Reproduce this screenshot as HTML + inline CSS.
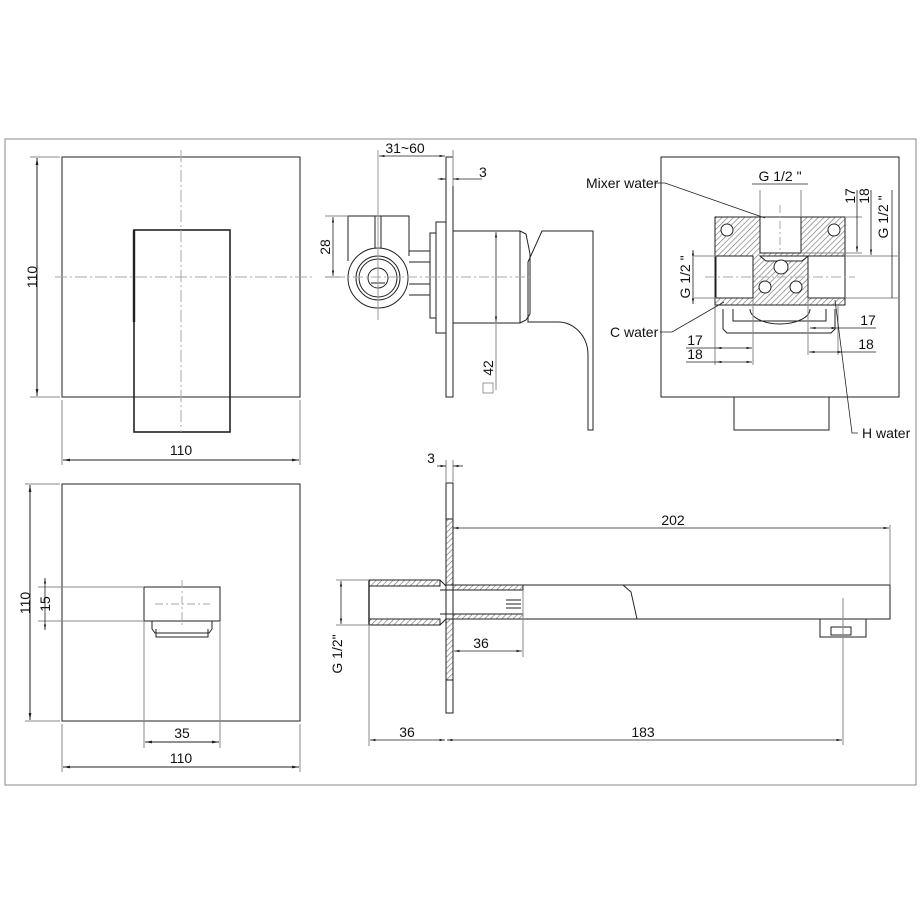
<!DOCTYPE html>
<html><head><meta charset="utf-8"><style>
html,body{margin:0;padding:0;background:#fff}
svg{display:block}
text{font-family:"Liberation Sans",sans-serif;font-size:14px;fill:#111}
</style></head><body>
<svg width="920" height="920" viewBox="0 0 920 920" xmlns="http://www.w3.org/2000/svg">
<defs>
<pattern id="h" width="4" height="4" patternUnits="userSpaceOnUse" patternTransform="rotate(45)">
<rect width="4" height="4" fill="#fff"/><line x1="0" y1="0" x2="0" y2="4" stroke="#777" stroke-width="1.3"/>
</pattern>
<marker id="a" viewBox="0 0 10 10" refX="10" refY="5" markerWidth="7" markerHeight="7" orient="auto-start-reverse"><path d="M0,3L10,5L0,7z" fill="#222"/></marker>
</defs>
<g fill="none" stroke="#222" stroke-width="1">
<!-- frame -->
<rect x="5" y="139" width="911" height="646" stroke="#888"/>

<!-- top-left view -->
<rect x="62" y="157" width="238" height="240"/>
<rect x="134" y="230" width="96" height="202" stroke-width="1.6"/>
<line x1="134" y1="230" x2="134" y2="322" stroke-width="2.4"/>
<line x1="181" y1="150" x2="181" y2="432" stroke="#aaa" stroke-dasharray="12,3,2,3"/>
<line x1="55" y1="277" x2="312" y2="277" stroke="#aaa" stroke-dasharray="12,3,2,3"/>
<line x1="30" y1="157" x2="60" y2="157" stroke="#888"/><line x1="30" y1="397" x2="60" y2="397" stroke="#888"/>
<line x1="37" y1="158" x2="37" y2="396" marker-start="url(#a)" marker-end="url(#a)"/>
<line x1="62" y1="400" x2="62" y2="465" stroke="#888"/><line x1="300" y1="400" x2="300" y2="465" stroke="#888"/>
<line x1="63" y1="460" x2="299" y2="460" marker-start="url(#a)" marker-end="url(#a)"/>

<!-- bottom-left view -->
<rect x="62" y="484" width="238" height="237"/>
<rect x="144" y="587" width="76" height="34"/>
<path d="M152,621v8l3,4h54l3,-4v-8"/>
<path d="M156,629v8h52v-8"/>
<line x1="182" y1="580" x2="182" y2="628" stroke="#aaa" stroke-dasharray="8,3,2,3"/>
<line x1="155" y1="604" x2="210" y2="604" stroke="#aaa" stroke-dasharray="8,3,2,3"/>
<line x1="38" y1="587" x2="144" y2="587" stroke="#888"/><line x1="38" y1="621" x2="144" y2="621" stroke="#888"/>
<line x1="45" y1="578" x2="45" y2="630" marker-start="url(#a)" marker-end="url(#a)" stroke-width=".8"/>
<line x1="25" y1="484" x2="60" y2="484" stroke="#888"/><line x1="25" y1="721" x2="60" y2="721" stroke="#888"/>
<line x1="30" y1="485" x2="30" y2="720" marker-start="url(#a)" marker-end="url(#a)"/>
<line x1="144" y1="621" x2="144" y2="748" stroke="#888"/><line x1="220" y1="621" x2="220" y2="748" stroke="#888"/>
<line x1="145" y1="742" x2="219" y2="742" marker-start="url(#a)" marker-end="url(#a)"/>
<line x1="62" y1="724" x2="62" y2="772" stroke="#888"/><line x1="300" y1="724" x2="300" y2="772" stroke="#888"/>
<line x1="63" y1="767" x2="299" y2="767" marker-start="url(#a)" marker-end="url(#a)"/>

<!-- top-middle side view -->
<rect x="446" y="157" width="7" height="240"/>
<rect x="436" y="222" width="10" height="111"/>
<rect x="430" y="233" width="6" height="85"/>
<rect x="453" y="231" width="67" height="92"/>
<path d="M520,231l6,3l4,20v60l-4,6l-6,3"/>
<path d="M542,231h51v199h-5v-75c0,-20 -15,-33 -30,-33h-30v-60z"/>
<path d="M409,251h21M409,262h21M409,284h21M409,295h21"/>
<path d="M348,216h61v40"/>
<path d="M348,216v45"/>
<circle cx="378" cy="278" r="30"/>
<circle cx="378" cy="278" r="22"/>
<circle cx="378" cy="278" r="19"/>
<circle cx="378" cy="278" r="10"/>
<path d="M371,283h14"/>
<path d="M375,216v32M381,216v32"/>
<line x1="378" y1="150" x2="378" y2="320" stroke="#999"/>
<line x1="335" y1="277" x2="530" y2="277" stroke="#aaa" stroke-dasharray="10,3,2,3"/>
<line x1="379" y1="156" x2="445" y2="156" marker-start="url(#a)" marker-end="url(#a)" stroke-width=".8"/>
<line x1="453" y1="150" x2="453" y2="186" stroke="#888"/>
<line x1="438" y1="179" x2="446" y2="179" marker-end="url(#a)" stroke-width=".8"/>
<line x1="453" y1="179" x2="482" y2="179" marker-start="url(#a)" stroke-width=".8"/>
<line x1="325" y1="216" x2="348" y2="216" stroke="#888"/><line x1="325" y1="277" x2="340" y2="277" stroke="#888"/>
<line x1="333" y1="217" x2="333" y2="276" marker-start="url(#a)" marker-end="url(#a)" stroke-width=".8"/>
<line x1="496" y1="232" x2="496" y2="322" marker-start="url(#a)" marker-end="url(#a)" stroke-width=".8"/>
<line x1="496" y1="322" x2="496" y2="390" stroke="#888"/>
<rect x="483" y="383" width="10" height="10" stroke="#999"/>

<!-- top-right view -->
<rect x="661" y="157" width="238" height="240"/>
<rect x="734" y="397" width="95" height="33"/>
<path d="M723,309v20l4,4h104l4,-4v-20"/>
<path d="M733,309v12h93v-12"/>
<path d="M750,309a30,15 0 0 0 60,0"/>
<rect x="715" y="217" width="130" height="88" fill="url(#h)"/>
<rect x="760" y="217" width="41" height="36" fill="#fff"/>
<rect x="716" y="256" width="37" height="42" fill="#fff"/>
<rect x="808" y="256" width="37" height="42" fill="#fff"/>
<path d="M760,256h48l-6,5h-36z" fill="#fff"/>
<circle cx="781" cy="267" r="7" fill="#fff"/>
<circle cx="765" cy="287" r="6" fill="#fff"/>
<circle cx="796" cy="287" r="6" fill="#fff"/>
<circle cx="727" cy="230" r="6" fill="#fff"/>
<circle cx="834" cy="230" r="6" fill="#fff"/>
<line x1="705" y1="277" x2="855" y2="277" stroke="#aaa" stroke-dasharray="10,3,2,3"/>
<line x1="780" y1="205" x2="780" y2="250" stroke="#aaa" stroke-dasharray="8,3,2,3"/>
<line x1="760" y1="190" x2="760" y2="217" stroke="#888"/><line x1="801" y1="190" x2="801" y2="217" stroke="#888"/>
<line x1="752" y1="184" x2="808" y2="184" stroke-width=".8"/>
<line x1="845" y1="217" x2="862" y2="217" stroke="#888"/><line x1="845" y1="256" x2="898" y2="256" stroke="#888"/>
<line x1="801" y1="253" x2="862" y2="253" stroke="#888"/><line x1="845" y1="298" x2="898" y2="298" stroke="#888"/>
<line x1="857" y1="190" x2="857" y2="252" marker-end="url(#a)" stroke-width=".8"/>
<line x1="871" y1="190" x2="871" y2="255" marker-end="url(#a)" stroke-width=".8"/>
<line x1="892" y1="190" x2="892" y2="298" stroke-width=".8"/>
<line x1="694" y1="256" x2="716" y2="256" stroke="#888"/><line x1="694" y1="298" x2="716" y2="298" stroke="#888"/>
<line x1="693" y1="250" x2="693" y2="304" marker-start="url(#a)" marker-end="url(#a)" stroke-width=".8"/>
<line x1="715" y1="305" x2="715" y2="365" stroke="#888"/><line x1="753" y1="298" x2="753" y2="365" stroke="#888"/>
<line x1="716" y1="348" x2="752" y2="348" marker-start="url(#a)" marker-end="url(#a)" stroke-width=".8"/>
<line x1="716" y1="362" x2="752" y2="362" marker-start="url(#a)" marker-end="url(#a)" stroke-width=".8"/>
<line x1="686" y1="348" x2="716" y2="348" stroke-width=".8"/>
<line x1="686" y1="362" x2="716" y2="362" stroke-width=".8"/>
<line x1="808" y1="298" x2="808" y2="355" stroke="#888"/><line x1="838" y1="305" x2="838" y2="355" stroke="#888"/>
<line x1="810" y1="328" x2="837" y2="328" marker-start="url(#a)" marker-end="url(#a)" stroke-width=".8"/>
<line x1="837" y1="328" x2="876" y2="328" stroke-width=".8"/>
<line x1="809" y1="352" x2="843" y2="352" marker-start="url(#a)" marker-end="url(#a)" stroke-width=".8"/>
<line x1="843" y1="352" x2="876" y2="352" stroke-width=".8"/>
<path d="M655,183l10,0l100,35" stroke-width=".8"/>
<path d="M660,332l12,0l52,-30" stroke-width=".8"/>
<path d="M858,433l-6,0l-17,-133" stroke-width=".8"/>

<!-- bottom-middle view -->
<rect x="446" y="483" width="7" height="230"/>
<rect x="446" y="519" width="7" height="66" fill="url(#h)"/>
<rect x="446" y="619" width="7" height="61" fill="url(#h)"/>
<path d="M453,585h170l8,7l6,27h-184" />
<path d="M623,585h267v34h-253"/>
<rect x="369" y="580" width="71" height="6" fill="url(#h)"/>
<rect x="369" y="619" width="71" height="6" fill="url(#h)"/>
<line x1="369" y1="580" x2="369" y2="625" stroke-width="1.4"/>
<path d="M440,580l6,6v33l-6,6"/>
<rect x="453" y="585" width="70" height="5" fill="url(#h)"/>
<rect x="453" y="614" width="70" height="5" fill="url(#h)"/>
<path d="M440,590h13M440,614h13"/>
<path d="M506,600h15M506,604h15M506,608h15"/>
<rect x="820" y="619" width="46" height="18"/>
<rect x="831" y="627" width="20" height="8"/>
<line x1="843" y1="598" x2="843" y2="745" stroke="#888"/>
<line x1="453" y1="528" x2="889" y2="528" marker-start="url(#a)" marker-end="url(#a)" stroke-width=".8"/>
<line x1="890" y1="525" x2="890" y2="585" stroke="#888"/>
<line x1="453" y1="460" x2="453" y2="483" stroke="#888"/><line x1="446" y1="460" x2="446" y2="483" stroke="#888"/>
<line x1="437" y1="466" x2="446" y2="466" marker-end="url(#a)" stroke-width=".8"/>
<line x1="453" y1="466" x2="463" y2="466" marker-start="url(#a)" stroke-width=".8"/>
<line x1="523" y1="590" x2="523" y2="657" stroke="#888"/>
<line x1="454" y1="651" x2="522" y2="651" marker-start="url(#a)" marker-end="url(#a)" stroke-width=".8"/>
<line x1="336" y1="580" x2="369" y2="580" stroke="#888"/><line x1="336" y1="625" x2="369" y2="625" stroke="#888"/>
<line x1="341" y1="581" x2="341" y2="624" marker-start="url(#a)" marker-end="url(#a)" stroke-width=".8"/>
<line x1="369" y1="625" x2="369" y2="746" stroke="#888"/>
<line x1="370" y1="740" x2="445" y2="740" marker-start="url(#a)" marker-end="url(#a)" stroke-width=".8"/>
<line x1="447" y1="740" x2="842" y2="740" marker-start="url(#a)" marker-end="url(#a)" stroke-width=".8"/>
</g>

<g>
<text x="181" y="455" text-anchor="middle">110</text>
<text transform="translate(37,277) rotate(-90)" text-anchor="middle">110</text>
<text transform="translate(30,603) rotate(-90)" text-anchor="middle">110</text>
<text transform="translate(50,604) rotate(-90)" text-anchor="middle">15</text>
<text x="182" y="738" text-anchor="middle">35</text>
<text x="181" y="763" text-anchor="middle">110</text>
<text x="405" y="153" text-anchor="middle">31~60</text>
<text x="479" y="177">3</text>
<text transform="translate(330,247) rotate(-90)" text-anchor="middle">28</text>
<text transform="translate(493,368) rotate(-90)" text-anchor="middle">42</text>
<text x="586" y="188">Mixer water</text>
<text x="780" y="181" text-anchor="middle">G 1/2 "</text>
<text transform="translate(855,196) rotate(-90)" text-anchor="middle">17</text>
<text transform="translate(869,196) rotate(-90)" text-anchor="middle">18</text>
<text transform="translate(888,217) rotate(-90)" text-anchor="middle">G 1/2 "</text>
<text transform="translate(690,277) rotate(-90)" text-anchor="middle">G 1/2 "</text>
<text x="610" y="337">C water</text>
<text x="695" y="345" text-anchor="middle">17</text>
<text x="695" y="359" text-anchor="middle">18</text>
<text x="868" y="325" text-anchor="middle">17</text>
<text x="866" y="349" text-anchor="middle">18</text>
<text x="862" y="438">H water</text>
<text x="431" y="463" text-anchor="middle">3</text>
<text x="673" y="525" text-anchor="middle">202</text>
<text x="481" y="648" text-anchor="middle">36</text>
<text transform="translate(342,654) rotate(-90)" text-anchor="middle">G 1/2"</text>
<text x="407" y="737" text-anchor="middle">36</text>
<text x="643" y="737" text-anchor="middle">183</text>
</g>
</svg>
</body></html>
